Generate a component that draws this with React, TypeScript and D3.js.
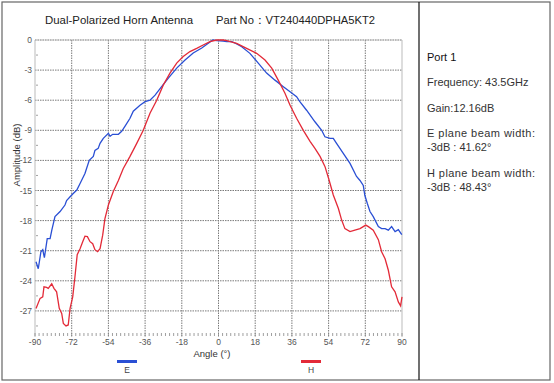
import React from "react";
import * as d3 from "d3";

const eAngles = [-89.5,-88.4,-87.1,-86.2,-85.4,-84,-82.6,-81.7,-80.2,-77.7,-75.3,-74.5,-72,-69.5,-67.9,-65.5,-63.4,-61.4,-60.6,-59,-58.1,-56.5,-54,-53.2,-51.9,-49.1,-47.5,-45.9,-43.4,-41.8,-38.5,-36,-33.6,-31.1,-27.9,-24.6,-20.5,-16.4,-12.4,-8.2,-5,-2.8,-0.8,2.3,4,6.5,8.5,11.4,15.4,19.5,23.6,27.7,31.8,35.1,38.3,39.9,43.2,47.3,50.6,52.2,54.7,56.3,57.9,61.2,64.5,67.7,69.4,71,71.8,73,74.3,75.9,78.4,80,81.7,83.3,84.9,86.6,88.2,89.9];
const eValues = [-22.1,-22.8,-21.1,-20.9,-21.7,-19.8,-19.8,-18.9,-17.6,-17.1,-16.45,-16.0,-15.45,-14.95,-14.3,-13.3,-12.0,-11.6,-11.0,-10.8,-10.3,-9.8,-9.3,-9.6,-9.4,-9.4,-9.1,-8.6,-7.8,-7.1,-6.5,-6.15,-6.0,-5.5,-4.65,-3.8,-2.8,-2.0,-1.3,-0.8,-0.33,0,-0.07,-0.1,-0.15,-0.17,-0.35,-0.67,-1.33,-2.3,-3.3,-4.0,-4.65,-5.15,-5.65,-6.15,-7.0,-8.15,-9.0,-9.65,-9.8,-9.8,-10.3,-11.3,-12.3,-13.6,-14.0,-14.5,-15.5,-16.3,-17.1,-17.6,-18.6,-18.8,-18.8,-18.95,-18.6,-19.1,-18.9,-19.4];

const hAngles = [-89.5,-87.5,-86.2,-85.6,-84.3,-83.5,-81.8,-80.7,-79.4,-78.1,-76.9,-76.1,-74.8,-73.7,-72.8,-71.5,-70.4,-69.3,-67.9,-66.6,-65.5,-64.3,-63,-61.7,-60.6,-59.3,-58.1,-56.8,-55.7,-54,-51.6,-49.1,-46.7,-43.4,-40.1,-36.9,-33.6,-30.3,-27.1,-23.8,-20.5,-17.3,-14,-10.7,-7.5,-4.2,-0.9,2.3,4,8.9,13.8,18.7,22.8,26.1,29.3,32.6,35.1,38.3,41.6,44.9,47.3,49.8,52.2,54.3,56.3,58.8,60.4,62,64.5,66.9,69.4,71,72.2,73.5,75.9,78.4,80,81.7,83.3,84.9,86.6,88.2,89.3,90];
const hValues = [-26.75,-25.75,-25.6,-24.6,-24.65,-24.75,-24.3,-24.75,-25.1,-26.75,-27.25,-28.25,-28.5,-28.4,-26.75,-25.6,-23.6,-21.4,-20.8,-20.1,-19.55,-19.6,-20.1,-20.3,-20.9,-21.1,-20.8,-19.45,-17.8,-16.45,-15.1,-14.0,-12.8,-11.6,-10.3,-9.0,-7.3,-6.0,-4.5,-3.3,-2.3,-1.65,-1.15,-0.83,-0.5,-0.17,0,0,-0.07,-0.33,-0.83,-1.33,-2.0,-2.8,-4.0,-5.3,-6.5,-7.8,-9.0,-10.1,-10.8,-11.6,-12.6,-14.0,-15.45,-16.8,-17.95,-18.8,-19.1,-18.95,-18.8,-18.6,-18.45,-18.6,-18.95,-19.9,-21.1,-21.8,-22.95,-24.6,-25.1,-26.1,-26.5,-25.6];

const xTicks = [-90,-72,-54,-36,-18,0,18,36,54,72,90];
const yTicks = [0,-3,-6,-9,-12,-15,-18,-21,-24,-27];
const titleLeft = "Dual-Polarized Horn Antenna";
const titleRight = "Part No：VT240440DPHA5KT2";
const infoLines = ["Port 1","Frequency: 43.5GHz","Gain:12.16dB","E plane beam width:","-3dB : 41.62°","H plane beam width:","-3dB : 48.43°"];
const seriesNames = ["E","H"];
const seriesColors = ["#2a4fd4","#e32a38"];

export default function App() {
  const L = 35, R = 402, T = 40, B = 337;
  const x = d3.scaleLinear().domain([-90, 90]).range([L, R]);
  const y = d3.scaleLinear().domain([0, -29.6]).range([T, B]);
  const line = d3.line<[number, number]>().x(d => x(d[0])).y(d => y(d[1]));
  const eData: [number, number][] = eAngles.map((a, i) => [a, eValues[i]]);
  const hData: [number, number][] = hAngles.map((a, i) => [a, hValues[i]]);
  const minorX = d3.range(-90, 90.1, 2);
  const minorY = d3.range(-1.5, -29.6, -3);
  const font = "'Liberation Sans', Arial, sans-serif";
  const infoY = [61, 86, 112, 137, 151, 177, 191];

  return (
    <svg width={554} height={383} style={{ position: "absolute", left: 0, top: 0, background: "#fff" }} fontFamily={font}>
      <rect x={0} y={0} width={554} height={383} fill="#fff" />
      <rect x={2} y={2} width={548} height={378} fill="none" stroke="#666" strokeWidth={1.2} />
      <line x1={419} x2={419} y1={2} y2={380} stroke="#111" strokeWidth={1.2} />

      <text x={45} y={24} fontSize={11.5} fill="#222" textLength={148} lengthAdjust="spacingAndGlyphs">{titleLeft}</text>
      <text x={216} y={24} fontSize={11.5} fill="#222" textLength={159} lengthAdjust="spacingAndGlyphs">{titleRight}</text>

      {yTicks.map(t => (
        <line key={"gy" + t} x1={L} x2={R} y1={y(t)} y2={y(t)} stroke="#7a7a7a" strokeWidth={1} strokeDasharray="1.5,1" />
      ))}
      {xTicks.slice(1, -1).map(t => (
        <line key={"gx" + t} x1={x(t)} x2={x(t)} y1={T} y2={B} stroke="#7a7a7a" strokeWidth={1} strokeDasharray="1.5,1" />
      ))}
      <line x1={R} x2={R} y1={T} y2={B} stroke="#bbb" strokeWidth={1} />
      <line x1={L} x2={L} y1={T} y2={B} stroke="#bbb" strokeWidth={1} />
      <line x1={L} x2={R} y1={T} y2={T} stroke="#bbb" strokeWidth={0.6} />

      {minorX.map(t => (
        <line key={"mx" + t} x1={x(t)} x2={x(t)} y1={B - 4} y2={B - 1} stroke="#888" strokeWidth={0.8} />
      ))}
      {minorY.map(t => (
        <line key={"my" + t} x1={L + 1} x2={L + 3} y1={y(t)} y2={y(t)} stroke="#888" strokeWidth={0.8} />
      ))}

      {yTicks.map(t => (
        <text key={"ly" + t} x={L - 3} y={y(t) + 3} fontSize={8.5} fill="#555" textAnchor="end">{t}</text>
      ))}
      {xTicks.map(t => (
        <text key={"lx" + t} x={x(t)} y={345} fontSize={8.5} fill="#555" textAnchor="middle">{t}</text>
      ))}

      <text x={212} y={357} fontSize={9.5} fill="#333" textAnchor="middle">Angle (°)</text>
      <text transform="translate(20,155) rotate(-90)" fontSize={9.5} fill="#333" textAnchor="middle">Amplitude (dB)</text>

      <path d={line(eData) || ""} fill="none" stroke={seriesColors[0]} strokeWidth={1.3} />
      <path d={line(hData) || ""} fill="none" stroke={seriesColors[1]} strokeWidth={1.3} />

      <line x1={117} x2={137} y1={361.5} y2={361.5} stroke={seriesColors[0]} strokeWidth={3} />
      <text x={127} y={373} fontSize={8.5} fill="#444" textAnchor="middle">{seriesNames[0]}</text>
      <line x1={301} x2={321} y1={361.5} y2={361.5} stroke={seriesColors[1]} strokeWidth={3} />
      <text x={311} y={373} fontSize={8.5} fill="#444" textAnchor="middle">{seriesNames[1]}</text>

      {infoLines.map((s, i) => (
        <text key={"info" + i} x={427} y={infoY[i]} fontSize={11} fill={i === 0 ? "#111" : "#333"}
          textLength={i === 3 || i === 5 ? 108 : undefined} lengthAdjust="spacing">{s}</text>
      ))}
    </svg>
  );
}
